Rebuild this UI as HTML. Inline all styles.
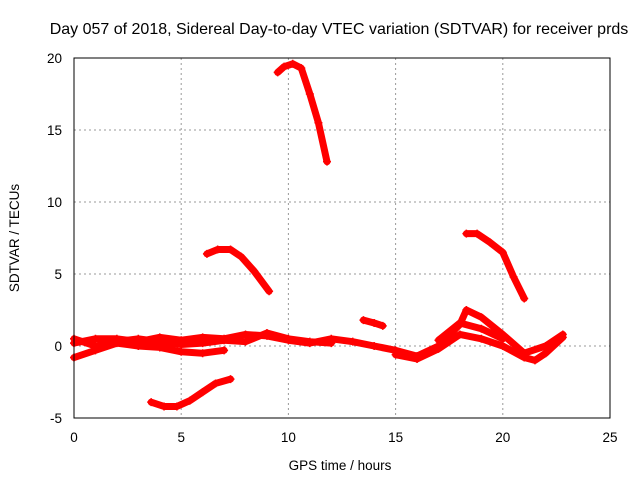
<!DOCTYPE html>
<html><head><meta charset="utf-8"><style>
body{margin:0;background:#fff}
svg{display:block;font-family:"Liberation Sans",sans-serif}
</style></head><body>
<svg id="chart" width="640" height="480" viewBox="0 0 640 480">
<text x="339" y="34" font-size="16" text-anchor="middle">Day 057 of 2018, Sidereal Day-to-day VTEC variation (SDTVAR) for receiver prds</text>
<text x="340" y="470" font-size="13.5" text-anchor="middle">GPS time / hours</text>
<text transform="translate(19,238) rotate(-90)" font-size="13.5" text-anchor="middle">SDTVAR / TECUs</text>
<g id="grid"></g><g id="ticks"></g><g id="marks"></g>
<rect x="74" y="58" width="536" height="360" fill="none" stroke="#000" stroke-width="1"/>
</svg>
<script>
const xTicks=[0,5,10,15,20,25];
const yTicks=[-5,0,5,10,15,20];
const track1T=[9.5,9.8,10.2,10.6,11.0,11.4,11.8];
const track1V=[19.0,19.4,19.6,19.3,17.5,15.5,12.8];
const track2T=[6.2,6.7,7.3,7.8,8.4,9.1];
const track2V=[6.4,6.7,6.7,6.2,5.2,3.8];
const track3T=[18.3,18.8,19.4,20.0,20.5,21.0];
const track3V=[7.8,7.8,7.2,6.5,4.8,3.3];
const track4T=[3.6,4.2,4.8,5.4,6.0,6.6,7.3];
const track4V=[-3.9,-4.2,-4.2,-3.8,-3.2,-2.6,-2.3];
const track5T=[13.5,14.0,14.4];
const track5V=[1.8,1.6,1.4];
const track6T=[0,1,2,3,4,5,6,7,8,9,10,11,12,13,14,15,16,17,18,18.3,19,20,21,22,22.8];
const track6V=[0.2,0.5,0.5,0.3,0.6,0.4,0.6,0.5,0.8,0.7,0.4,0.2,0.5,0.3,0,-0.3,-0.7,0,1.5,2.5,2.0,0.8,-0.5,0,0.8];
const track7T=[0,1,2,3,4,5,6,7];
const track7V=[-0.8,-0.3,0.2,0,-0.1,-0.4,-0.5,-0.3];
const track8T=[0,1,2,3,4,5,6,7,8,9,10,11,12];
const track8V=[0.5,0,0.3,0.5,0.3,0.1,0.2,0.4,0.3,0.9,0.5,0.3,0.2];
const track9T=[15.0,16,17,18,19,20,21,21.5,22,22.8];
const track9V=[-0.6,-0.9,-0.2,0.8,0.5,0,-0.8,-1.0,-0.5,0.6];
const track10T=[17,18,19,20];
const track10V=[0.4,1.6,1.2,0.5];
const X=t=>74+t*536/25, Y=v=>418-(v+5)*360/25;
const NS="http://www.w3.org/2000/svg";
const grid=document.getElementById('grid'),ticks=document.getElementById('ticks'),marks=document.getElementById('marks');
function mk(tag,attrs,parent){const e=document.createElementNS(NS,tag);for(const k in attrs)e.setAttribute(k,attrs[k]);parent.appendChild(e);return e;}
xTicks.forEach(t=>{
 if(t>0&&t<25){const g=mk('line',{x1:X(t),x2:X(t),y1:58,y2:418,stroke:'#999','stroke-dasharray':'2,3'},grid);
 
 }
 const l=mk('text',{x:X(t),y:442,'font-size':13.5,'text-anchor':'middle'},ticks);l.textContent=t;
 
 
});
yTicks.forEach(v=>{
 if(v>-5&&v<20){const g=mk('line',{x1:74,x2:610,y1:Y(v),y2:Y(v),stroke:'#999','stroke-dasharray':'2,3'},grid);
 
 }
 const l=mk('text',{x:62,y:Y(v)+5,'font-size':13.5,'text-anchor':'end'},ticks);l.textContent=v;
 
 
});
const tracks=[[track1T,track1V],[track2T,track2V],[track3T,track3V],[track4T,track4V],[track5T,track5V],[track6T,track6V],[track7T,track7V],[track8T,track8V],[track9T,track9V],[track10T,track10V]];
tracks.forEach(([T,V],i)=>{
 const pts=T.map((t,j)=>X(t)+','+Y(V[j])).join(' ');
 const p=mk('polyline',{points:pts,fill:'none',stroke:'#f00','stroke-width':7,'stroke-linejoin':'round','stroke-linecap':'round'},marks);
 
 
 T.forEach((t,j)=>{const x=X(t),y=Y(V[j]);
  const m=mk('path',{d:`M${x-4},${y}H${x+4}M${x},${y-4}V${y+4}`,stroke:'#f00','stroke-width':1.5},marks);
  
  
 });
});
</script>
</body></html>
